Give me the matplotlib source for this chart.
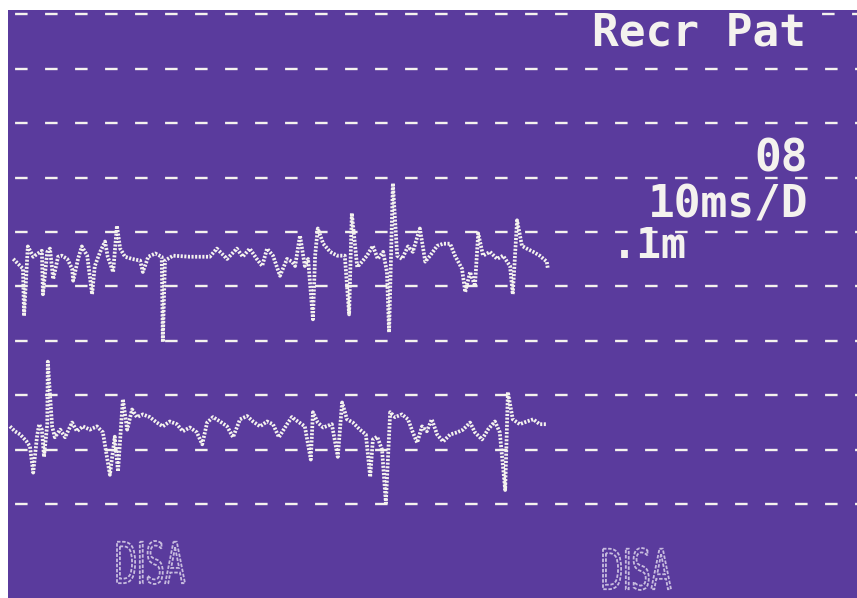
import matplotlib
matplotlib.use("Agg")
import matplotlib.pyplot as plt
import numpy as np
from matplotlib.textpath import TextPath
from matplotlib.patches import PathPatch
from matplotlib.font_manager import FontProperties
from matplotlib.transforms import Affine2D

plt.rcParams['lines.scale_dashes'] = False

# ---------------- data (time in ms, amplitude in microvolts) ----------------
t1 = [0.6, 1.5, 2.4, 2.6, 3.3, 4.3, 5.9, 6.1, 6.9, 7.4, 8.0, 8.9, 9.6, 10.6, 11.5, 11.7,
      12.6, 13.3, 14.3, 15.2, 15.7, 16.7, 17.6, 18.1, 19.1, 19.8, 20.4, 21.3, 22.6, 24.1,
      24.6, 25.6, 26.9, 28.1, 28.3, 28.7, 30.2, 33.3, 37.0, 38.3, 40.2, 42.0, 43.1, 44.4,
      45.7, 46.7, 47.6, 48.7, 50.0, 51.3, 52.2, 52.8, 53.7, 54.6, 55.2, 56.1, 56.5, 57.0,
      58.0, 59.3, 60.6, 62.0, 62.8, 63.3, 64.3, 65.2, 66.1, 67.2, 68.1, 69.1, 69.8, 70.2,
      70.9, 71.7, 72.6, 73.7, 74.6, 75.9, 76.9, 77.8, 79.1, 80.2, 81.5, 82.4, 83.7, 84.3,
      85.2, 86.1, 86.7, 87.6, 88.9, 90.2, 91.3, 92.6, 93.1, 93.9, 94.8, 95.7, 96.9, 98.1,
      99.4, 99.6]
a1 = [-4, -13, -22, -109, 19, 0, 11, -69, 9, 15, -41, 0, 2, -4, -22, -44,
      -4, 19, 2, -69, -17, 9, 28, 0, -28, 57, 15, 0, -4, -7,
      -28, 0, 6, 0, -157, -7, 2, 0, 0, 15, -4, 15, 0, 15,
      -4, -17, 15, 2, -35, -4, -9, -17, 39, -17, -4, -115, 2, 52,
      24, 9, 2, 2, -106, 80, -19, -9, 2, 20, -4, 9, -28, -139,
      135, 2, -4, 19, 9, 52, -9, 2, 20, 24, 24, 2, -22, -65,
      -28, -54, 43, 2, 9, -4, 2, -17, -69, 67, 20, 15, 9, 2,
      -9, -22]

t2 = [0.0, 0.9, 1.9, 3.1, 3.7, 4.3, 5.0, 5.4, 5.9, 6.3, 6.9, 7.0, 7.8, 8.3, 9.3, 10.2,
      11.5, 12.4, 13.5, 14.8, 16.1, 17.2, 18.5, 19.4, 20.0, 20.9, 21.7, 22.6, 23.5, 24.6,
      25.9, 27.2, 28.3, 29.6, 30.9, 32.0, 33.3, 34.6, 35.6, 36.5, 37.6, 38.9, 40.2, 41.3,
      42.6, 43.9, 45.0, 46.3, 47.6, 48.7, 49.8, 51.3, 52.2, 53.3, 54.6, 55.7, 56.1, 57.0,
      58.0, 59.6, 60.7, 61.5, 62.4, 63.5, 64.8, 65.9, 66.7, 67.2, 68.0, 68.9, 69.6, 70.4,
      71.3, 72.6, 73.7, 74.6, 75.4, 76.3, 77.2, 78.1, 79.1, 80.2, 81.5, 82.8, 83.9, 85.2,
      86.1, 87.4, 88.5, 89.8, 90.7, 91.7, 92.2, 93.1, 94.4, 95.7, 96.9, 98.1, 99.4]
a2 = [0, -9, -15, -28, -37, -85, -19, 4, -6, -56, 4, 119, 0, -20, -6, -20,
      7, -9, 0, -6, 0, -11, -89, -19, -83, 50, -6, 31, 17, 22,
      17, 7, 0, 9, 4, -9, -2, -11, -33, 7, 17, 9, 0, -20,
      13, 19, 9, 0, 9, 4, -20, 4, 17, 9, 0, -61, 26, 7,
      -2, 4, -56, 44, 13, 7, -6, -15, -93, -24, -19, -43, -141, 26,
      17, 22, 13, -11, -30, 0, -9, 13, -15, -28, -15, -11, -6, 7,
      -11, -24, -6, 9, -11, -117, 63, 13, 4, 9, 13, 4, 4]

grid_divisions = list(range(10))
screen_title = "Recr Pat"
gain_label = "08"
sweep_label = "10ms/D"
sens_label = ".1m"
maker_label = "DISA"

UV_PER_DIV = 100.0
BASE1 = 4.456   # trace 1 baseline (divisions from top graticule line)
BASE2 = 7.574   # trace 2 baseline

# ---------------- layout / style ----------------
W, H = 857, 598
PURPLE = "#5a3b9d"
WHITE = "#f4f2ee"
AX_L, AX_T = 8, 10
AXW, AXH = W - AX_L, H - AX_T

fig = plt.figure(figsize=(W / 100, H / 100), dpi=100, facecolor="white")
ax = fig.add_axes([AX_L / W, 0, AXW / W, AXH / H])
ax.set_facecolor(PURPLE)
ax.set_xlim(-0.37, 156.85)
ax.set_ylim(10.729, -0.08)
ax.set_xticks([])
ax.set_yticks([])
for s in ax.spines.values():
    s.set_visible(False)

def ax_x(px):
    return (px - AX_L) / AXW

def ax_y(py):
    return 1 - (py - AX_T) / AXH

# graticule: dashed lines (top one is interrupted by the title)
dash = dict(color=WHITE, lw=1.7, ls=(16.5, (9.0, 12.6)), zorder=1)
for d in grid_divisions:
    if d == 0:
        ax.axhline(d, xmax=ax_x(576), **dash)
        ax.axhline(d, xmin=ax_x(815), **dash)
    else:
        ax.axhline(d, **dash)

# traces (dotted like a dot-matrix display)
y1 = BASE1 - np.array(a1) / UV_PER_DIV
y2 = BASE2 - np.array(a2) / UV_PER_DIV
for t, y in ((t1, y1), (t2, y2)):
    ax.plot(t, y, color=WHITE, lw=2.7, ls=(0, (1.5, 1.1)),
            dash_capstyle="butt", zorder=3)

mono = dict(family="DejaVu Sans Mono", weight="bold", color=WHITE)
ax.text(ax_x(806), ax_y(46), screen_title, transform=ax.transAxes, ha="right",
        va="baseline", fontsize=32, zorder=4, **mono)
ax.text(ax_x(808), ax_y(171), gain_label, transform=ax.transAxes, ha="right",
        va="baseline", fontsize=32, zorder=4, **mono)
ax.text(ax_x(808), ax_y(218), sweep_label, transform=ax.transAxes, ha="right",
        va="baseline", fontsize=32, zorder=4, **mono)
ax.text(ax_x(612), ax_y(258), sens_label, transform=ax.transAxes, ha="left",
        va="baseline", fontsize=30, zorder=4, **mono)

# faint hand-lettered maker labels at the bottom
fp = FontProperties(family="Liberation Sans Narrow", weight="normal")
def squeezed(text, left, top, wpx, hpx):
    tp = TextPath((0, 0), text, size=1, prop=fp)
    bb = tp.get_extents()
    sx = (wpx / AXW) / bb.width
    sy = (hpx / AXH) / bb.height
    tr = (Affine2D().translate(-bb.x0, -bb.y0).scale(sx, sy)
          .translate(ax_x(left), ax_y(top + hpx)) + ax.transAxes)
    ax.add_patch(PathPatch(tp, transform=tr, facecolor="none", edgecolor="#e4def0",
                           lw=1.3, ls=(0, (2.5, 1.2)), alpha=0.8, zorder=4))

squeezed(maker_label, 117, 541, 68, 43)
squeezed(maker_label, 603, 548, 68, 42)

fig.savefig("out.png", dpi=100, facecolor="white")
